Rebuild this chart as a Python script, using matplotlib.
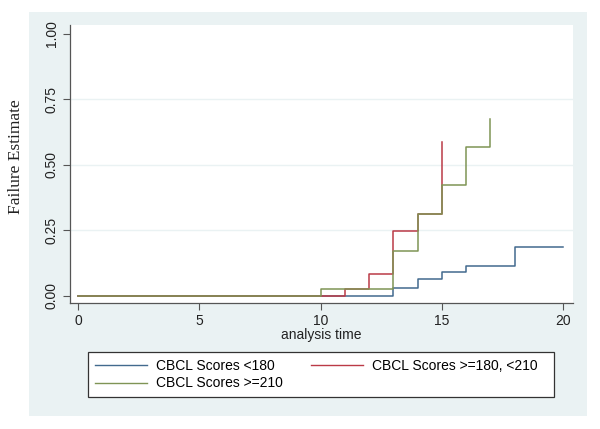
import numpy as np
import matplotlib as mpl
mpl.use('Agg')
import matplotlib.pyplot as plt
from matplotlib.patches import Rectangle

# failure estimates (step functions)
t_low = [0, 13, 14, 15, 16, 18, 20]
f_low = [0, 0.029, 0.066, 0.092, 0.114, 0.186, 0.186]
t_mid = [0, 11, 12, 13, 14, 15]
f_mid = [0, 0.025, 0.083, 0.249, 0.312, 0.587]
t_high = [0, 10, 13, 14, 15, 16, 17]
f_high = [0, 0.025, 0.173, 0.312, 0.423, 0.568, 0.676]

labels = ["CBCL Scores <180", "CBCL Scores >=180, <210", "CBCL Scores >=210"]
xticks = [0, 5, 10, 15, 20]
yticks = [0, 0.25, 0.5, 0.75, 1.0]

W, H = 600, 429
fig = plt.figure(figsize=(6, 4.29), dpi=100)
fig.patch.set_facecolor('white')

# stata style grey panel behind the plot
panel = Rectangle((29/W, 1-416/H), (587-29)/W, (416-12)/H,
                  transform=fig.transFigure, facecolor='#eaf2f3',
                  edgecolor='none', zorder=-1)
fig.add_artist(panel)

ax = fig.add_axes([70/W, 1-303/H, (573-70)/W, (303-25)/H])
ax.set_facecolor('white')
ax.set_xlim(-0.34, 20.41)
ax.set_ylim(-0.027, 1.034)

for y in [0.25, 0.5, 0.75]:
    ax.axhline(y, color='#eaf2f3', lw=1.0, zorder=0)

ax.step(t_low, f_low, where='post', color='#426a8e', lw=1.1, label=labels[0])
ax.step(t_mid, f_mid, where='post', color='#bb3a47', lw=1.1, label=labels[1])
ax.step(t_high, f_high, where='post', color='#7f9455', lw=1.1, label=labels[2])

for s in ['top', 'right']:
    ax.spines[s].set_visible(False)
for s in ['left', 'bottom']:
    ax.spines[s].set_color('#555555')
    ax.spines[s].set_linewidth(0.9)

ax.set_xticks(xticks)
ax.set_xticklabels([str(x) for x in xticks])
ax.set_yticks(yticks)
ax.set_yticklabels(['%.2f' % y for y in yticks], rotation=90, va='center')
ax.tick_params(axis='both', direction='out', length=5, width=0.8,
               color='#555555', labelsize=10, labelcolor='#222222', pad=3)
for lab in ax.get_xticklabels() + ax.get_yticklabels():
    lab.set_family('Liberation Sans')

ax.set_xlabel('analysis time', fontsize=10, family='Liberation Sans',
              color='#222222', labelpad=0)

fig.text(16/W, 1-157/H, 'Failure Estimate', rotation=90, ha='center',
         va='center', fontsize=12.5, family='Liberation Serif', color='#222222')

# legend box drawn by hand so it spans the same width as stata's
box = Rectangle((88/W, 1-397/H), (554-88)/W, (397-352)/H,
                transform=fig.transFigure, facecolor='white',
                edgecolor='#333333', lw=0.9, zorder=1)
fig.add_artist(box)

# row-wise order like stata: blue, red / green
handles, labs = ax.get_legend_handles_labels()
order = [0, 2, 1]
leg = fig.legend([handles[i] for i in order], [labs[i] for i in order],
                 ncol=2, loc='upper left', bbox_to_anchor=(88/W, 1-352/H),
                 frameon=False, handlelength=3.75, handletextpad=0.65,
                 columnspacing=2.0, borderaxespad=0, borderpad=0.5,
                 labelspacing=0.25, prop={'family': 'Liberation Sans', 'size': 10})
leg.set_zorder(2)
for line in leg.get_lines():
    line.set_linewidth(1.0)

fig.savefig('out.png', dpi=100)
